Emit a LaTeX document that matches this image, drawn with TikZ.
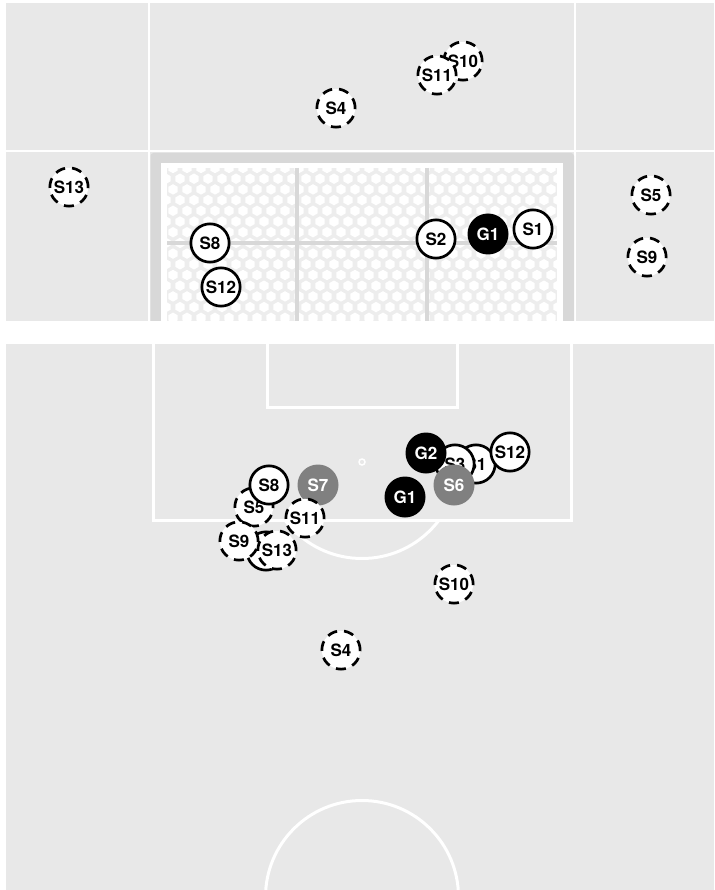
\documentclass[tikz,border=0pt]{standalone}
\usepackage{fontspec}
\setmainfont{TeX Gyre Heros}
\definecolor{pitch}{HTML}{E8E8E8}
\definecolor{post}{HTML}{D8D8D8}
\definecolor{netting}{HTML}{EDEDED}
\newcommand{\hexcell}[2]{\fill[white] (#1,#2-5.2) -- ++(4.6,2.6) -- ++(0,5.2) -- ++(-4.6,2.6) -- ++(-4.6,-2.6) -- ++(0,-5.2) -- cycle;}
\tikzset{
  pl/.style={circle,draw=black,fill=white,line width=2.7pt,minimum size=38.3pt,inner sep=0pt,font=\fontsize{17}{18}\selectfont\bfseries,text=black},
  pd/.style={pl,dash pattern=on 10pt off 7pt},
  gk/.style={circle,fill=black,minimum size=41pt,inner sep=0pt,font=\fontsize{17}{18}\selectfont\bfseries,text=white},
  gy/.style={gk,fill=black!50},
  ln/.style={white,line width=3pt},
  bar/.style={post,line width=3.5pt},
}
\begin{document}
\begin{tikzpicture}[x=1pt,y=-1pt]
\useasboundingbox (0,0) rectangle (714,890);
\fill[white] (0,0) rectangle (714,890);
% top panel
\fill[pitch] (6,3) rectangle (714,321);
\draw[white,line width=2pt] (149,3)--(149,321); \draw[white,line width=2pt] (575,3)--(575,321); \draw[white,line width=2pt] (6,151)--(714,151);
\fill[post,rounded corners=3pt] (150.5,153) rectangle (574,340);
\fill[white] (161,163) rectangle (563,321);
\begin{scope}
\clip (167,168) rectangle (557,321);
\fill[netting] (167,168) rectangle (557,321);
\foreach \r in {0,2,...,14}{
  \foreach \c in {0,...,28}{
    \hexcell{173+14*\c}{168+10.7*\r}
    \hexcell{166+14*\c}{178.7+10.7*\r}
  }
}
\end{scope}
\draw[bar] (297,168)--(297,321); \draw[bar] (427,168)--(427,321); \draw[bar] (167,243)--(557,243);
\fill[white] (140,321) rectangle (590,344);
\node[pd] (t10) at (463,61){S10}; \node[pd] (t11) at (437,75){S11}; \node[pd] (t4) at (336,108){S4};
\node[pd] (t13) at (69,187){S13}; \node[pd] (t5) at (651,195){S5}; \node[pd] (t9) at (647,257){S9};
\node[pl] (t8) at (210,243){S8}; \node[pl] (t12) at (221,287){S12}; \node[pl] (t2) at (436,239){S2};
\node[gk] (tg1) at (488,234){G1}; \node[pl] (t1) at (533,229){S1};
% bottom panel
\fill[pitch] (6,344) rectangle (714,890);
\draw[ln] (153,344)--(153,520)--(571,520)--(571,344);
\draw[ln] (267,344)--(267,407)--(457,407)--(457,344);
\begin{scope}
\clip (200,521) rectangle (520,570);
\draw[ln] (362,462) circle[radius=96.5];
\end{scope}
\node[circle,draw=white,fill=pitch,line width=1.5pt,minimum size=6pt,inner sep=0pt] (spot) at (362,462){};
\begin{scope}
\clip (6,790) rectangle (714,890);
\draw[ln] (362,897) circle[radius=96.5];
\end{scope}
\node[pl] (b2) at (266,551){}; \node[pl] (b1) at (476,464){S1}; \node[pl] (b3) at (455,464){S3}; \node[pl] (b12) at (510,452){S12};
\node[gk] (bg2) at (426,453){G2}; \node[gy] (b6) at (454,485){S6}; \node[gk] (bg1) at (405,497){G1};
\node[gy] (b7) at (318,485){S7}; \node[pd] (b5) at (254,507){S5}; \node[pl] (b8) at (269,485){S8};
\node[pd] (b11) at (305,518){S11}; \node[pd] (b9) at (239,541){S9}; \node[pd] (b13) at (277,550){S13};
\node[pd] (b10) at (454,584){S10}; \node[pd] (b4) at (341,650){S4};
\end{tikzpicture}
\end{document}
